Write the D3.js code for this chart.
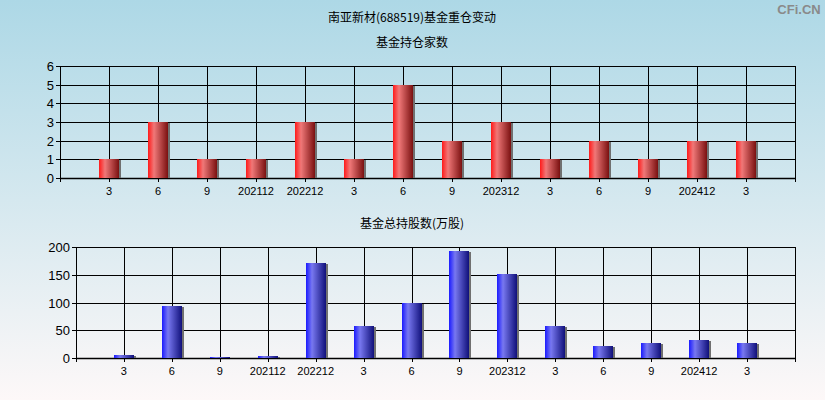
<!DOCTYPE html>
<html><head><meta charset="utf-8">
<script src="https://cdn.jsdelivr.net/npm/d3@7"></script>
<style>html,body{margin:0;padding:0;}svg{display:block;}</style>
</head><body>
<svg id="c" width="825" height="400"></svg>
<script>
const categories = ["3","6","9","202112","202212","3","6","9","202312","3","6","9","202412","3"];
const fundCounts = [1,3,1,1,3,1,5,2,3,1,2,1,2,2];
const fundShares = [6,94,2,4,172,58,99,193,152,58,22,27,33,27];
const countTicks = [0,1,2,3,4,5,6];
const shareTicks = [0,50,100,150,200];
const mainTitle = "南亚新材(688519)基金重仓变动";
const title1 = "基金持仓家数";
const title2 = "基金总持股数(万股)";

const svg = d3.select("#c");
const defs = svg.append("defs");
const bg = defs.append("linearGradient").attr("id","bg").attr("x1",0).attr("y1",0).attr("x2",0).attr("y2",1);
bg.append("stop").attr("offset","0%").attr("stop-color","#add8e6");
bg.append("stop").attr("offset","100%").attr("stop-color","#fdf8f8");
function barGrad(id, c0, c1, c2){
  const g = defs.append("linearGradient").attr("id",id).attr("x1",0).attr("y1",0).attr("x2",1).attr("y2",0);
  g.append("stop").attr("offset","0%").attr("stop-color",c0);
  g.append("stop").attr("offset","30%").attr("stop-color",c1);
  g.append("stop").attr("offset","100%").attr("stop-color",c2);
}
barGrad("red","#ff1a1a","#f07878","#7a1010");
barGrad("blue","#1a1aff","#7878f0","#10107a");

svg.append("rect").attr("width",825).attr("height",400).attr("fill","url(#bg)");

const cjk = "'Noto Sans CJK SC', sans-serif";
const lat = "'Liberation Sans', Arial, sans-serif";
svg.append("text").attr("x",412).attr("y",22).attr("text-anchor","middle").attr("font-family",cjk).attr("font-size",12).attr("fill","#000").text(mainTitle);
svg.append("text").attr("x",799).attr("y",14).attr("text-anchor","middle").attr("font-family",lat).attr("font-weight","bold").attr("font-size",13).attr("fill","#8a8a8a").text("CFi.CN");

function panel(cfg){
  const {left,right,top,bottom,values,ticks,maxV,grad,title,titleY} = cfg;
  const g = svg.append("g");
  g.append("text").attr("x",412).attr("y",titleY).attr("text-anchor","middle").attr("font-family",cjk).attr("font-size",12).attr("fill","#000").text(title);
  const x = d3.scaleLinear().domain([0, categories.length+1]).range([left,right]);
  const y = d3.scaleLinear().domain([0,maxV]).range([bottom,top]);
  // horizontal grid
  g.selectAll(".hg").data(ticks).join("line")
    .attr("x1",left).attr("x2",right).attr("y1",d=>Math.round(y(d))+0.5).attr("y2",d=>Math.round(y(d))+0.5)
    .attr("stroke","#000").attr("stroke-width",1);
  // vertical grid at category positions
  const idx = d3.range(1, categories.length+1);
  g.selectAll(".vg").data(idx).join("line")
    .attr("x1",d=>Math.round(x(d))+0.5).attr("x2",d=>Math.round(x(d))+0.5).attr("y1",top).attr("y2",bottom+4)
    .attr("stroke","#000").attr("stroke-width",1);
  // frame
  g.append("line").attr("x1",left+0.5).attr("x2",left+0.5).attr("y1",top).attr("y2",bottom+4).attr("stroke","#000");
  g.append("line").attr("x1",right+0.5).attr("x2",right+0.5).attr("y1",top).attr("y2",bottom+4).attr("stroke","#000");
  g.append("line").attr("x1",left).attr("x2",right+1).attr("y1",Math.round(top)+0.5).attr("y2",Math.round(top)+0.5).attr("stroke","#000");
  g.append("line").attr("x1",left).attr("x2",right+1).attr("y1",Math.round(bottom)+0.5).attr("y2",Math.round(bottom)+0.5).attr("stroke","#000").attr("stroke-width",1.5);
  // y ticks
  g.selectAll(".yt").data(ticks).join("line")
    .attr("x1",left-4).attr("x2",left).attr("y1",d=>Math.round(y(d))+0.5).attr("y2",d=>Math.round(y(d))+0.5).attr("stroke","#000");
  g.selectAll(".yl").data(ticks).join("text")
    .attr("x",left-6).attr("y",d=>y(d)+5).attr("text-anchor","end")
    .attr("font-family",lat).attr("font-size",13).attr("fill","#000").text(d=>d);
  // bars
  const bw = 20;
  g.selectAll(".sh").data(values).join("rect")
    .attr("x",(d,i)=>Math.round(x(i+1))-bw/2+bw).attr("width",2)
    .attr("y",d=>Math.round(y(d))+1).attr("height",d=>Math.max(0,Math.round(bottom)-Math.round(y(d))-1))
    .attr("fill","#707070");
  g.selectAll(".bar").data(values).join("rect")
    .attr("x",(d,i)=>Math.round(x(i+1))-bw/2).attr("width",bw)
    .attr("y",d=>Math.round(y(d))).attr("height",d=>Math.round(bottom)-Math.round(y(d)))
    .attr("fill","url(#"+grad+")");
  // x labels
  g.selectAll(".xl").data(categories).join("text")
    .attr("x",(d,i)=>x(i+1)).attr("y",bottom+17).attr("text-anchor","middle")
    .attr("font-family",lat).attr("font-size",11).attr("fill","#000").text(d=>d);
}
panel({left:60,right:795,top:66,bottom:178,values:fundCounts,ticks:countTicks,maxV:6,grad:"red",title:title1,titleY:47});
panel({left:76,right:795,top:247,bottom:358,values:fundShares,ticks:shareTicks,maxV:200,grad:"blue",title:title2,titleY:228});
</script>
</body></html>
